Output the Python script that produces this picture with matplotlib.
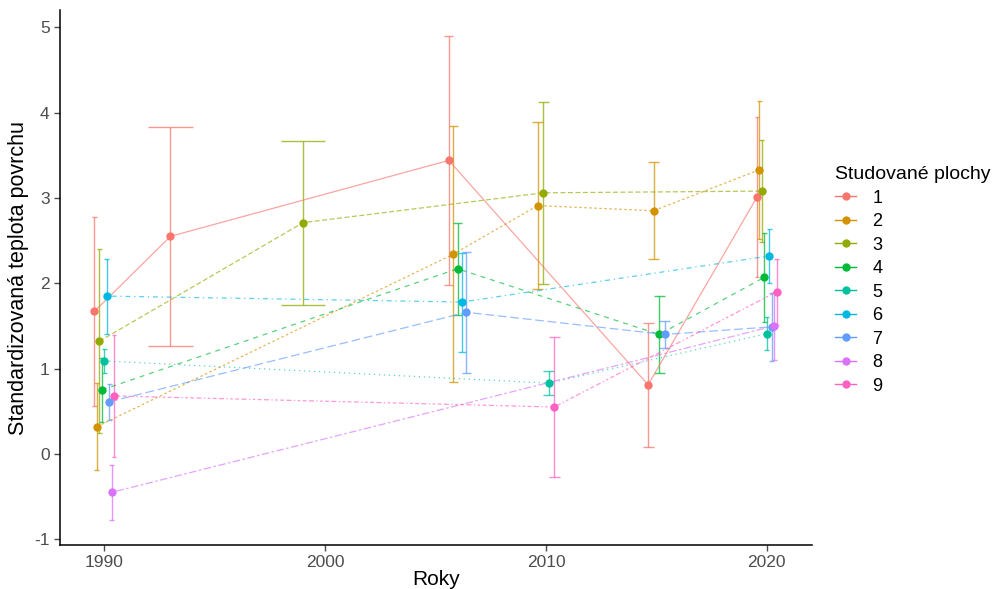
import matplotlib
matplotlib.use("Agg")
import matplotlib.pyplot as plt
from matplotlib.lines import Line2D

plt.rcParams["font.family"] = ["Liberation Sans", "DejaVu Sans"]
plt.rcParams["axes.unicode_minus"] = False

SERIES = ["1", "2", "3", "4", "5", "6", "7", "8", "9"]
COLORS = ["#F8766D", "#D39200", "#93AA00", "#00BA38", "#00C19F",
          "#00B9E3", "#619CFF", "#DB72FB", "#FF61C3"]
# ggplot linetypes: solid, 22, 42, 44, 13, 1343, 73, 2262, 12223242
DASHES = [None, (2, 2), (4, 2), (4, 4), (1, 3), (1, 3, 4, 3), (7, 3),
          (2, 2, 6, 2), (1, 2, 2, 2, 3, 2, 4, 2)]

YEARS = [
    [1990, 1993, 2006, 2015, 2020],
    [1990, 2006, 2010, 2015, 2020],
    [1990, 1999, 2010, 2020],
    [1990, 2006, 2015, 2020],
    [1990, 2010, 2020],
    [1990, 2006, 2020],
    [1990, 2006, 2015, 2020],
    [1990, 2020],
    [1990, 2010, 2020],
]
MEANS = [
    [1.67, 2.55, 3.44, 0.81, 3.01],
    [0.32, 2.34, 2.91, 2.85, 3.33],
    [1.32, 2.71, 3.06, 3.08],
    [0.75, 2.17, 1.40, 2.07],
    [1.09, 0.83, 1.41],
    [1.85, 1.78, 2.32],
    [0.61, 1.66, 1.40, 1.49],
    [-0.45, 1.50],
    [0.68, 0.55, 1.90],
]
SDS = [
    [1.11, 1.28, 1.46, 0.73, 0.94],
    [0.51, 1.50, 0.98, 0.57, 0.81],
    [1.08, 0.96, 1.07, 0.60],
    [0.37, 0.54, 0.45, 0.52],
    [0.14, 0.14, 0.19],
    [0.44, 0.58, 0.32],
    [0.21, 0.71, 0.16, 0.40],
    [0.32, 0.40],
    [0.71, 0.82, 0.39],
]

DODGE = 1.0
ERR_WIDTH = 2.0


def dodged_positions():
    # position_dodge: groups present at the same year share the dodge width
    present = {}
    for i, years in enumerate(YEARS):
        for y in years:
            present.setdefault(y, []).append(i)
    xs, halfw = [], []
    for i, years in enumerate(YEARS):
        row_x, row_w = [], []
        for y in years:
            groups = present[y]
            n = len(groups)
            k = groups.index(i)
            row_x.append(y + (k - (n - 1) / 2) * DODGE / n)
            row_w.append(ERR_WIDTH / n / 2)
        xs.append(row_x)
        halfw.append(row_w)
    return xs, halfw


fig = plt.figure(figsize=(9.94, 5.89), dpi=100)
ax = fig.add_axes([0.0604, 0.0747, 0.7566, 0.908])

xs, halfw = dodged_positions()
for i in range(len(SERIES)):
    c = COLORS[i]
    for x, m, s, hw in zip(xs[i], MEANS[i], SDS[i], halfw[i]):
        ax.vlines(x, m - s, m + s, color=c, lw=1.0, alpha=0.75, zorder=2)
        ax.hlines([m - s, m + s], x - hw, x + hw, color=c, lw=1.0, alpha=0.75, zorder=2)
    line, = ax.plot(xs[i], MEANS[i], color=c, lw=0.9, alpha=0.65, zorder=3)
    if DASHES[i] is not None:
        line.set_dashes(DASHES[i])
    ax.plot(xs[i], MEANS[i], "o", color=c, ms=6, mec="none", zorder=4)

ax.set_xlim(1988.0, 2022.05)
ax.set_ylim(-1.067, 5.2)
ax.set_xticks([1990, 2000, 2010, 2020])
ax.set_yticks([-1, 0, 1, 2, 3, 4, 5])
for side in ["top", "right"]:
    ax.spines[side].set_visible(False)
for side in ["left", "bottom"]:
    ax.spines[side].set_linewidth(1.1)
ax.tick_params(labelsize=12.5, colors="#4D4D4D", length=4, width=1.0)
ax.set_xlabel("Roky", fontsize=15, labelpad=0)
ax.set_ylabel("Standardizovaná teplota povrchu", fontsize=15.5, labelpad=4)

handles = []
for i, name in enumerate(SERIES):
    handles.append(Line2D([0], [0], color=COLORS[i], lw=1.0, marker="o", ms=6,
                          mec="none", label=name))
leg = fig.legend(handles=handles, title="Studované plochy", loc="upper left",
                 bbox_to_anchor=(0.833, 0.73), frameon=False, fontsize=13,
                 title_fontsize=14, handlelength=1.15, handletextpad=0.9,
                 labelspacing=0.36, alignment="left", borderaxespad=0)

fig.savefig("out.png", dpi=100)
